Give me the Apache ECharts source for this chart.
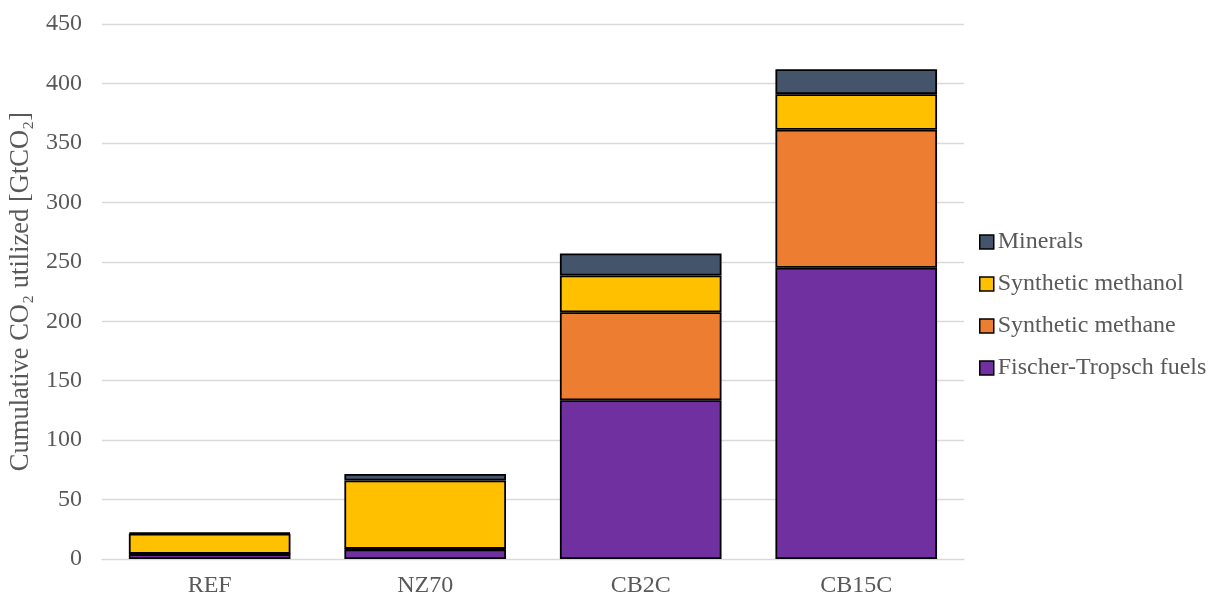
<!DOCTYPE html>
<html><head><meta charset="utf-8">
<script src="https://cdn.jsdelivr.net/npm/echarts@6/dist/echarts.min.js"></script>
<style>html,body{margin:0;padding:0;background:#fff}#c{width:1208px;height:598px}</style>
</head><body><div id="c"></div>
<script>
const categories = ['REF', 'NZ70', 'CB2C', 'CB15C'];
const fischerTropsch = [4, 8, 133.5, 245];
const syntheticMethane = [0.3, 0.5, 74, 116];
const syntheticMethanol = [17, 57.5, 31, 30];
const minerals = [0.8, 5.5, 18.5, 21];
const legendOrder = ['Minerals', 'Synthetic methanol', 'Synthetic methane', 'Fischer-Tropsch fuels'];

const font = 'Liberation Serif, Times New Roman, serif';
const mk = (name, data, color) => ({
  name, type: 'bar', stack: 'a', data, barWidth: '75%',
  itemStyle: { color, borderColor: '#000', borderWidth: 1.8 }
});
const chart = echarts.init(document.getElementById('c'));
chart.setOption({
  animation: false,
  grid: { left: 101, right: 244, top: 24, bottom: 38 },
  legend: {
    orient: 'vertical', left: 974, top: 225, itemGap: 18, itemWidth: 14, itemHeight: 14,
    data: legendOrder,
    icon: 'rect',
    itemStyle: { borderColor: '#000', borderWidth: 1.5 },
    textStyle: { fontFamily: font, fontSize: 24, color: '#595959', padding: [0, 0, 0, -1] }
  },
  xAxis: {
    type: 'category', data: categories,
    axisLine: { lineStyle: { color: '#d9d9d9', width: 1 } },
    axisTick: { show: false },
    axisLabel: { fontFamily: font, fontSize: 24, color: '#595959', margin: 15 }
  },
  yAxis: {
    type: 'value', min: 0, max: 450, interval: 50,
    name: 'Cumulative CO₂ utilized [GtCO₂]', nameLocation: 'middle', nameGap: 58,
    nameTextStyle: { fontFamily: font, fontSize: 26.5, color: '#595959' },
    axisLabel: { fontFamily: font, fontSize: 24, color: '#595959', margin: 20 },
    splitLine: { lineStyle: { color: '#d9d9d9', width: 1.3 } }
  },
  series: [
    mk('Fischer-Tropsch fuels', fischerTropsch, '#7030a0'),
    mk('Synthetic methane', syntheticMethane, '#ed7d31'),
    mk('Synthetic methanol', syntheticMethanol, '#ffc000'),
    mk('Minerals', minerals, '#44546a')
  ]
});
</script></body></html>
